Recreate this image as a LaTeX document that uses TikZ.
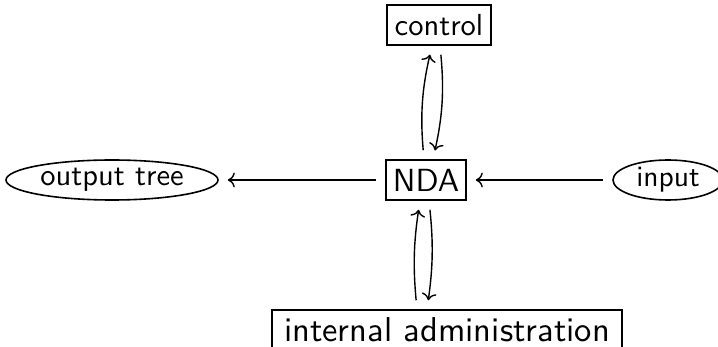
\documentclass[tikz,border=0pt]{standalone}
\usepackage{graphicx}
\usetikzlibrary{shapes.geometric,arrows.meta}
\begin{document}
\begin{tikzpicture}[x=1pt,y=-1pt,
  every node/.style={font=\sffamily, inner sep=0pt, line width=1.6pt},
  boxnode/.style={draw, rectangle, minimum height=40pt},
  ellnode/.style={draw, ellipse, minimum height=40pt},
  arr/.style={-{To[scale=1.5]}, line width=1.4pt, shorten >=9pt, shorten <=9pt}]
\useasboundingbox (0,0) rectangle (718,347);
\node[boxnode, minimum width=104pt] (control) at (439,25) {\scalebox{3.05}{control}};
\node[boxnode, minimum width=80pt] (nda) at (426,180) {\scalebox{3.2}{NDA}};
\node[boxnode, minimum width=350pt] (admin) at (447,330) {\raisebox{1pt}{\scalebox{3.45}{internal administration}}};
\node[ellnode, minimum width=212pt] (out) at (112,180) {\scalebox{3.05}{output tree}};
\node[ellnode, minimum width=110pt] (in) at (668,180) {\scalebox{2.95}{input}};
\draw[arr] (nda.west) -- (out.east);
\draw[arr] (in.west) -- (nda.east);
\draw[arr] ([xshift=-2pt]nda.north) to[bend left=9] ([xshift=-7pt]control.south);
\draw[arr] ([xshift=1pt]control.south) to[bend left=9] ([xshift=7pt]nda.north);
\draw[arr] ([xshift=-30pt]admin.north) to[bend left=7] ([xshift=-6pt]nda.south);
\draw[arr] ([xshift=3pt]nda.south) to[bend left=7] ([xshift=-20pt]admin.north);
\end{tikzpicture}
\end{document}
